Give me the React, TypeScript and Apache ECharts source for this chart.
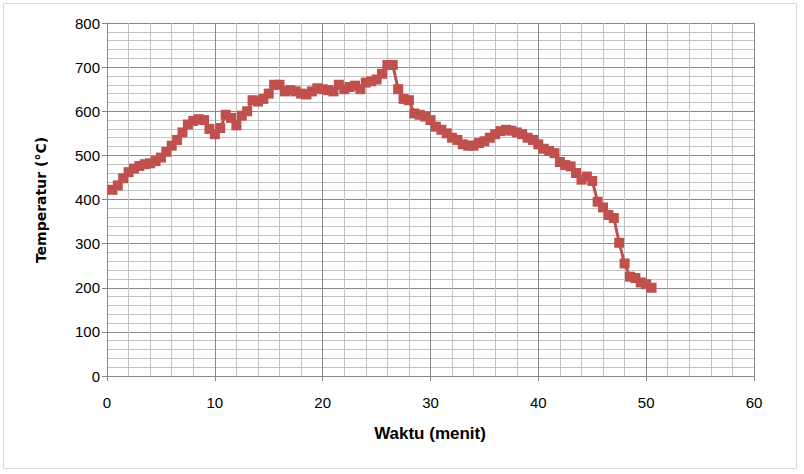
import React, { useEffect, useRef } from "react";
import * as echarts from "echarts";

const times: number[] = [
  0.5, 1, 1.5, 2, 2.5, 3, 3.5, 4, 4.5, 5, 5.5, 6, 6.5, 7, 7.5, 8, 8.5, 9, 9.5, 10,
  10.5, 11, 11.5, 12, 12.5, 13, 13.5, 14, 14.5, 15, 15.5, 16, 16.5, 17, 17.5, 18, 18.5, 19, 19.5, 20,
  20.5, 21, 21.5, 22, 22.5, 23, 23.5, 24, 24.5, 25, 25.5, 26, 26.5, 27, 27.5, 28, 28.5, 29, 29.5, 30,
  30.5, 31, 31.5, 32, 32.5, 33, 33.5, 34, 34.5, 35, 35.5, 36, 36.5, 37, 37.5, 38, 38.5, 39, 39.5, 40,
  40.5, 41, 41.5, 42, 42.5, 43, 43.5, 44, 44.5, 45, 45.5, 46, 46.5, 47, 47.5, 48, 48.5, 49, 49.5, 50, 50.5,
];

const temps: number[] = [
  422, 432, 448, 462, 470, 476, 480, 482, 487, 495, 508, 522, 535, 552, 570, 578, 582, 580, 560, 548,
  562, 592, 585, 568, 590, 600, 625, 622, 628, 640, 660, 660, 645, 648, 645, 640, 638, 645, 652, 650,
  648, 645, 660, 650, 655, 658, 650, 665, 668, 672, 685, 705, 705, 650, 628, 625, 595, 592, 588, 580,
  565, 558, 550, 540, 535, 525, 522, 522, 528, 532, 540, 548, 555, 558, 556, 552, 548, 540, 535, 525,
  515, 510, 505, 485, 478, 475, 460, 445, 452, 442, 395, 382, 365, 358, 302, 255, 225, 222, 212, 208, 200,
];

const xTitle = "Waktu (menit)";
const yTitle = "Temperatur (°C)";

export default function App() {
  const ref = useRef<HTMLDivElement>(null);
  useEffect(() => {
    if (!ref.current) return;
    const chart = echarts.init(ref.current, undefined, { renderer: "svg" });
    const major = "#888888";
    const minor = "#C4C4C4";
    const data = times.map((t, i) => [t, temps[i]]);
    chart.setOption({
      animation: false,
      backgroundColor: "#ffffff",
      grid: { left: 107, right: 50, top: 23, bottom: 98, containLabel: false },
      graphic: [
        {
          type: "rect",
          shape: { x: 3.5, y: 3.5, width: 793, height: 465 },
          style: { fill: "none", stroke: "#D9D9D9", lineWidth: 1 },
          silent: true,
        },
        {
          type: "text",
          x: 430,
          y: 433,
          style: {
            text: xTitle,
            font: "bold 17px 'Liberation Sans', Arial, sans-serif",
            fill: "#000000",
            textAlign: "center",
            textVerticalAlign: "middle",
          },
        },
        {
          type: "text",
          x: 41,
          y: 200,
          rotation: Math.PI / 2,
          style: {
            text: yTitle,
            font: "bold 14px 'DejaVu Sans', Verdana, sans-serif",
            fill: "#000000",
            textAlign: "center",
            textVerticalAlign: "middle",
          },
        },
      ],
      xAxis: {
        type: "value",
        min: 0,
        max: 60,
        interval: 10,
        axisLine: { show: true, lineStyle: { color: major, width: 1 } },
        axisTick: { show: true, length: 5, inside: false, lineStyle: { color: major } },
        axisLabel: {
          margin: 19,
          color: "#000000",
          fontSize: 15,
          fontFamily: "'Liberation Sans', Arial, sans-serif",
        },
        splitLine: { show: true, lineStyle: { color: major, width: 1 } },
        minorTick: { show: false, splitNumber: 5 },
        minorSplitLine: { show: true, lineStyle: { color: minor, width: 1 } },
      },
      yAxis: {
        type: "value",
        min: 0,
        max: 800,
        interval: 100,
        axisLine: { show: true, lineStyle: { color: major, width: 1 } },
        axisTick: { show: true, length: 5, inside: false, lineStyle: { color: major } },
        axisLabel: {
          margin: 7,
          color: "#000000",
          fontSize: 15,
          fontFamily: "'Liberation Sans', Arial, sans-serif",
        },
        splitLine: { show: true, lineStyle: { color: major, width: 1 } },
        minorTick: { show: false, splitNumber: 5 },
        minorSplitLine: { show: true, lineStyle: { color: minor, width: 1 } },
      },
      series: [
        {
          type: "line",
          data,
          symbol: "rect",
          symbolSize: 10,
          showSymbol: true,
          lineStyle: { color: "#C0504D", width: 3 },
          itemStyle: { color: "#C0504D" },
          z: 3,
        },
      ],
    });
    return () => chart.dispose();
  }, []);
  return (
    <div
      ref={ref}
      style={{ position: "fixed", left: 0, top: 0, width: 804, height: 474 }}
    />
  );
}
